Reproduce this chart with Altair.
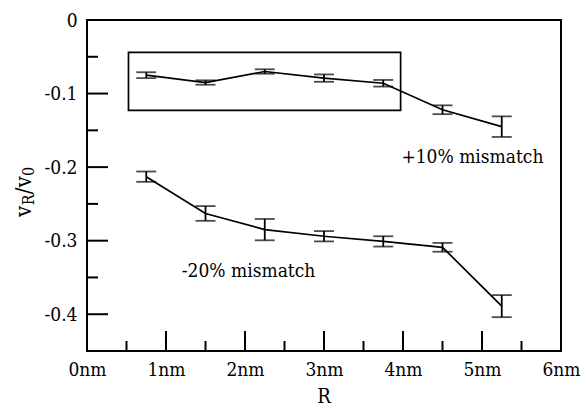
import altair as alt
import pandas as pd

# ---- data ----
R = [0.75, 1.5, 2.25, 3.0, 3.75, 4.5, 5.25]
plus10 = [-0.075, -0.085, -0.070, -0.079, -0.086, -0.122, -0.145]
plus10_err = [0.004, 0.003, 0.003, 0.005, 0.0045, 0.006, 0.014]
minus20 = [-0.213, -0.263, -0.285, -0.294, -0.301, -0.309, -0.389]
minus20_err = [0.007, 0.010, 0.0145, 0.007, 0.007, 0.006, 0.015]

x_ticks = [0, 1, 2, 3, 4, 5, 6]
y_ticks = [0, -0.1, -0.2, -0.3, -0.4]
x_major = [1, 2, 3, 4, 5]
x_minor = [0.5, 1.5, 2.5, 3.5, 4.5, 5.5]
y_major = [-0.1, -0.2, -0.3, -0.4]
y_minor = [-0.05, -0.15, -0.25, -0.35]

box_x = [0.525, 3.97]
box_y = [-0.044, -0.1228]

labels = ["+10% mismatch", "-20% mismatch"]
label_x = [3.98, 1.2]
label_y = [-0.195, -0.350]

FONT = "'DejaVu Serif Condensed', 'DejaVu Serif', serif"
W, H = 474, 331

rows = []
for s, vals, errs in [("p10", plus10, plus10_err), ("m20", minus20, minus20_err)]:
    for r, v, e in zip(R, vals, errs):
        rows.append({"series": s, "R": r, "v": v, "lo": v - e, "hi": v + e})
df = pd.DataFrame(rows)

xs = alt.Scale(domain=[0, 6], nice=False, zero=False)
ys = alt.Scale(domain=[-0.45, 0], nice=False, zero=False)

x_axis = alt.Axis(values=x_ticks, grid=False, domain=False, ticks=False, tickSize=0,
                  labelPadding=9, labelFlush=False, labelOverlap=False,
                  labelExpr="datum.value + 'nm'", labelFont=FONT, labelFontSize=19,
                  labelColor="black", title=None)
y_axis = alt.Axis(values=y_ticks, grid=False, domain=False, ticks=False, tickSize=0,
                  labelPadding=10, labelFlush=False, labelOverlap=False,
                  labelExpr="datum.value == 0 ? '0' : '-' + format(-datum.value, '.1f')",
                  labelFont=FONT, labelFontSize=19, labelColor="black", title=None)


def X(f):
    return alt.X(f, scale=xs, axis=x_axis)


def Y(f):
    return alt.Y(f, scale=ys, axis=y_axis)


base = alt.Chart(df)

lines = base.mark_line(color="black", strokeWidth=1.7).encode(
    x=X("R:Q"), y=Y("v:Q"), detail="series:N",
)
err_v = base.mark_rule(color="black", strokeWidth=1.8).encode(
    x=X("R:Q"), y=Y("lo:Q"), y2="hi:Q",
)
cap_lo = base.mark_tick(color="black", orient="horizontal", size=20, thickness=1.8).encode(
    x=X("R:Q"), y=Y("lo:Q"),
)
cap_hi = base.mark_tick(color="black", orient="horizontal", size=20, thickness=1.8).encode(
    x=X("R:Q"), y=Y("hi:Q"),
)

box = alt.Chart(pd.DataFrame({"x1": [box_x[0]], "x2": [box_x[1]],
                              "y1": [box_y[0]], "y2": [box_y[1]]})).mark_rect(
    fill=None, fillOpacity=0, stroke="black", strokeWidth=1.7
).encode(
    x=X("x1:Q"), x2="x2:Q", y=Y("y1:Q"), y2="y2:Q",
)

txt = alt.Chart(pd.DataFrame({"t": labels, "x": label_x, "y": label_y})).mark_text(
    font=FONT, fontSize=19, align="left", baseline="alphabetic", color="black"
).encode(
    x=X("x:Q"), y=Y("y:Q"), text="t:N",
)

# inward tick marks
xmaj = alt.Chart(pd.DataFrame({"t": x_major})).mark_rule(color="black", strokeWidth=2).encode(
    x=X("t:Q"), y=alt.value(H), y2=alt.value(H - 20))
xmin = alt.Chart(pd.DataFrame({"t": x_minor})).mark_rule(color="black", strokeWidth=2).encode(
    x=X("t:Q"), y=alt.value(H), y2=alt.value(H - 10))
ymaj = alt.Chart(pd.DataFrame({"t": y_major})).mark_rule(color="black", strokeWidth=2).encode(
    y=Y("t:Q"), x=alt.value(0), x2=alt.value(21))
ymin = alt.Chart(pd.DataFrame({"t": y_minor})).mark_rule(color="black", strokeWidth=2).encode(
    y=Y("t:Q"), x=alt.value(0), x2=alt.value(11))

one = pd.DataFrame({"a": [0]})


def piece(text, x, y, size):
    return alt.Chart(one).mark_text(
        font=FONT, fontSize=size, angle=270, align="left", baseline="alphabetic", color="black"
    ).encode(x=alt.value(x), y=alt.value(y), text=alt.value(text))


ytitle = [
    piece("v", -56, 197, 22),
    piece("R", -53, 185.3, 16),
    piece("/", -56, 174.3, 22),
    piece("v", -56, 167.6, 22),
    piece("0", -53, 155.9, 16),
]
xtitle = alt.Chart(one).mark_text(
    font=FONT, fontSize=20, align="center", baseline="alphabetic", color="black"
).encode(x=alt.value(W / 2), y=alt.value(383), text=alt.value("R"))

chart = alt.layer(
    lines, err_v, cap_lo, cap_hi, box, txt, xmaj, xmin, ymaj, ymin, xtitle, *ytitle
).properties(
    width=W, height=H,
    padding={"left": 87, "top": 20, "right": 20, "bottom": 56},
    autosize=alt.AutoSizeParams(type="none"),
).configure(
    background="white",
    font=FONT,
    view=alt.ViewConfig(stroke="black", strokeWidth=2),
)

chart.save("out.html", embed_options={"renderer": "svg", "actions": False})
